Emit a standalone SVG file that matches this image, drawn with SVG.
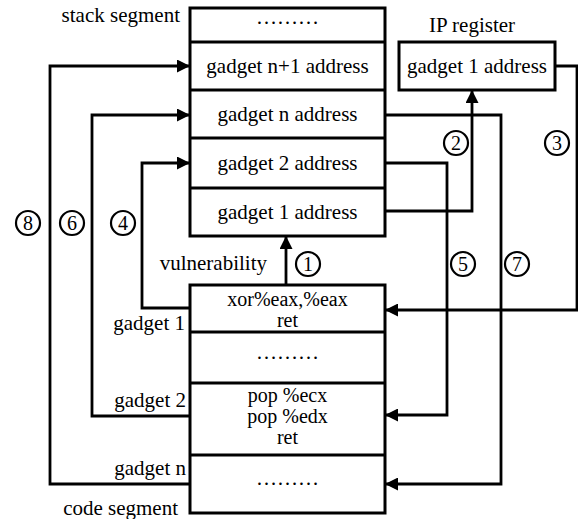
<svg xmlns="http://www.w3.org/2000/svg" width="578" height="519" viewBox="0 0 578 519">
  <style>
    text { font-family: "Liberation Serif", "Times New Roman", serif; font-size: 21px; fill: #000; }
    .c { text-anchor: middle; }
    .r { text-anchor: end; }
    .code { font-size: 20px; }
    .box { fill: #fff; stroke: #000; stroke-width: 3; }
    .div { stroke: #000; stroke-width: 3; }
    .wire { fill: none; stroke: #000; stroke-width: 2.8; }
    .num circle { fill: #fff; stroke: #000; stroke-width: 2.2; }
    .num text { font-size: 20px; text-anchor: middle; }
  </style>
  <defs>
    <marker id="ah" markerWidth="13" markerHeight="13" viewBox="0 0 13 13" refX="13" refY="6.5" orient="auto" markerUnits="userSpaceOnUse">
      <path d="M0,0 L13,6.5 L0,13 Z" fill="#000"/>
    </marker>
  </defs>

  <rect width="578" height="519" fill="#fff"/>

  <!-- stack segment -->
  <g id="stack">
    <text class="r" x="180" y="22">stack segment</text>
    <rect class="box" x="190" y="8" width="195" height="228"/>
    <line class="div" x1="190" y1="42" x2="385" y2="42"/>
    <line class="div" x1="190" y1="90" x2="385" y2="90"/>
    <line class="div" x1="190" y1="138" x2="385" y2="138"/>
    <line class="div" x1="190" y1="188" x2="385" y2="188"/>
    <text class="c" x="287.5" y="24">………</text>
    <text class="c" x="287.5" y="73">gadget n+1 address</text>
    <text class="c" x="287.5" y="121">gadget n address</text>
    <text class="c" x="287.5" y="170">gadget 2 address</text>
    <text class="c" x="287.5" y="219">gadget 1 address</text>
  </g>

  <!-- IP register -->
  <g id="ip">
    <text class="c" x="472" y="32">IP register</text>
    <rect class="box" x="399" y="42" width="156" height="48"/>
    <text class="c" x="477" y="73">gadget 1 address</text>
  </g>

  <!-- code segment -->
  <g id="code">
    <rect class="box" x="190" y="285" width="195" height="228"/>
    <line class="div" x1="190" y1="332" x2="385" y2="332"/>
    <line class="div" x1="190" y1="383" x2="385" y2="383"/>
    <line class="div" x1="190" y1="455" x2="385" y2="455"/>
    <text class="c code" x="287.5" y="306">xor%eax,%eax</text>
    <text class="c code" x="287.5" y="327">ret</text>
    <text class="c" x="287.5" y="359">………</text>
    <text class="c code" x="287.5" y="402">pop %ecx</text>
    <text class="c code" x="287.5" y="423">pop %edx</text>
    <text class="c code" x="287.5" y="444">ret</text>
    <text class="c" x="287.5" y="485">………</text>
    <text class="r" x="185" y="330">gadget 1</text>
    <text class="r" x="186" y="407">gadget 2</text>
    <text class="r" x="186" y="475">gadget n</text>
    <text class="r" x="178" y="515">code segment</text>
  </g>

  <text class="r" x="267" y="270">vulnerability</text>

  <!-- connectors -->
  <g id="connectors">
    <path class="wire" d="M286,285 V236" marker-end="url(#ah)"/>
    <path class="wire" d="M385,211 H472 V90" marker-end="url(#ah)"/>
    <path class="wire" d="M555,66 H577 V310 H385" marker-end="url(#ah)"/>
    <path class="wire" d="M190,308 H142 V163 H190" marker-end="url(#ah)"/>
    <path class="wire" d="M385,163 H447 V415 H385" marker-end="url(#ah)"/>
    <path class="wire" d="M190,416 H92 V115 H190" marker-end="url(#ah)"/>
    <path class="wire" d="M385,115 H501 V484 H385" marker-end="url(#ah)"/>
    <path class="wire" d="M190,484 H50 V66 H190" marker-end="url(#ah)"/>
  </g>

  <!-- step numbers -->
  <g id="steps" class="num">
    <g><circle cx="308" cy="264" r="12"/><text x="308" y="271">1</text></g>
    <g><circle cx="456" cy="143" r="12"/><text x="456" y="150">2</text></g>
    <g><circle cx="557" cy="143" r="12"/><text x="557" y="150">3</text></g>
    <g><circle cx="123" cy="223" r="12"/><text x="123" y="230">4</text></g>
    <g><circle cx="463" cy="264" r="12"/><text x="463" y="271">5</text></g>
    <g><circle cx="72" cy="223" r="12"/><text x="72" y="230">6</text></g>
    <g><circle cx="517" cy="264" r="12"/><text x="517" y="271">7</text></g>
    <g><circle cx="28" cy="223" r="12"/><text x="28" y="230">8</text></g>
  </g>
</svg>
